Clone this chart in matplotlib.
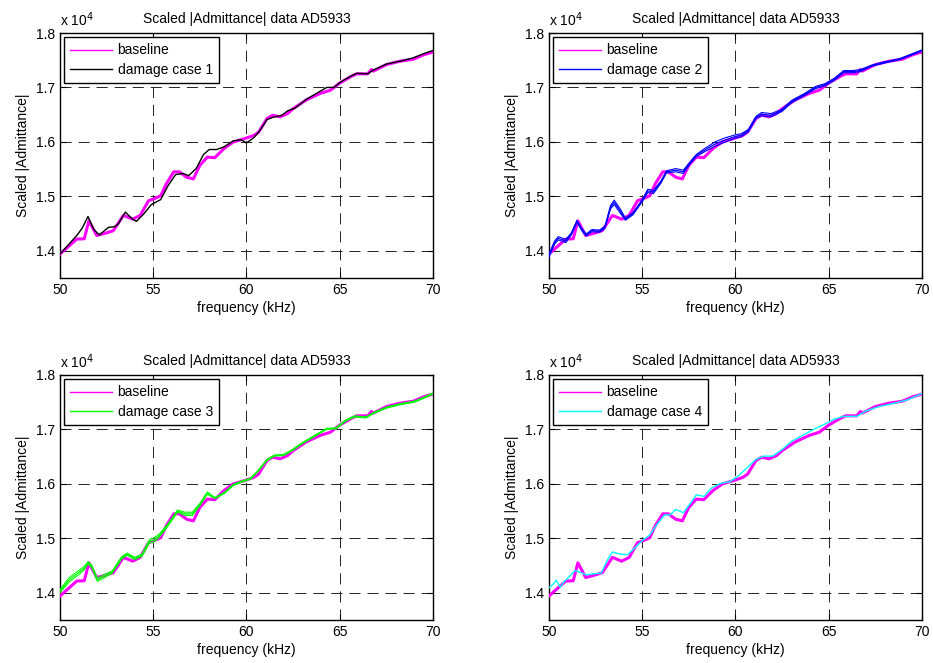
import matplotlib
matplotlib.use("Agg")
import matplotlib.pyplot as plt
import numpy as np

plt.rcParams.update({
    "font.size": 10,
    "axes.titlesize": 10,
    "font.family": "Liberation Sans",
    "lines.scale_dashes": False,
})

# admittance values are in units of 1e4
base_f = [50, 50.9, 51.3, 51.55, 51.97, 52.3, 52.6, 52.86, 53.4, 53.9, 54.3, 54.75, 55.0,
          55.4, 55.7, 56.1, 56.4, 56.8, 57.15, 57.5, 57.9, 58.3, 58.8, 59.3, 59.9, 60.4,
          60.65, 61.1, 61.4, 61.8, 62.2, 62.5, 63.2, 63.95, 64.5, 65.0, 65.6, 65.9, 66.5,
          66.7, 66.8, 67.5, 68.2, 68.96, 69.5, 70]
base_y = [1.394, 1.4215, 1.422, 1.455, 1.428, 1.431, 1.434, 1.437, 1.465, 1.458, 1.465, 1.492, 1.495,
          1.501, 1.523, 1.545, 1.545, 1.535, 1.532, 1.557, 1.572, 1.571, 1.588, 1.600, 1.606, 1.612,
          1.618, 1.643, 1.649, 1.646, 1.652, 1.661, 1.677, 1.689, 1.695, 1.708, 1.720, 1.725, 1.725,
          1.733, 1.730, 1.742, 1.748, 1.752, 1.760, 1.765]

case1_f = [50, 50.9, 51.2, 51.5, 51.8, 52.1, 52.6, 52.9, 53.1, 53.5, 53.9, 54.1, 54.5, 54.9,
           55.4, 55.8, 56.2, 56.6, 56.9, 57.3, 57.7, 58.0, 58.4, 58.8, 59.3, 59.7, 60.0, 60.4,
           60.7, 61.1, 61.4, 61.9, 62.2, 62.6, 63.2, 63.9, 64.3, 64.7, 65.0, 65.5, 65.9, 66.5,
           66.8, 67.5, 68.2, 68.9, 69.5, 70]
case1_y = [1.394, 1.428, 1.442, 1.463, 1.440, 1.429, 1.443, 1.444, 1.448, 1.471, 1.458, 1.454, 1.468, 1.485,
           1.494, 1.520, 1.540, 1.542, 1.538, 1.551, 1.577, 1.586, 1.586, 1.591, 1.602, 1.604, 1.598, 1.608,
           1.620, 1.641, 1.645, 1.649, 1.657, 1.662, 1.678, 1.692, 1.700, 1.700, 1.709, 1.719, 1.726, 1.725,
           1.732, 1.743, 1.748, 1.754, 1.762, 1.768]

case2_f = [50, 50.3, 50.5, 50.9, 51.2, 51.5, 51.8, 52.0, 52.3, 52.7, 53.0, 53.3, 53.5, 53.8,
           54.1, 54.5, 55.0, 55.3, 55.6, 56.0, 56.3, 56.8, 57.2, 57.6, 57.9, 58.4, 58.9, 59.4,
           60.0, 60.3, 60.7, 61.1, 61.4, 61.9, 62.5, 63.0, 63.7, 64.3, 64.8, 65.3, 65.8, 66.3,
           66.7, 67.3, 68.0, 68.8, 69.4, 70.0]
case2_y = [1.391, 1.415, 1.423, 1.418, 1.431, 1.454, 1.437, 1.429, 1.437, 1.436, 1.443, 1.480, 1.489, 1.474,
           1.458, 1.468, 1.492, 1.510, 1.508, 1.526, 1.545, 1.548, 1.545, 1.563, 1.575, 1.586, 1.596, 1.603,
           1.610, 1.612, 1.621, 1.645, 1.651, 1.649, 1.658, 1.674, 1.687, 1.700, 1.705, 1.715, 1.729, 1.729,
           1.731, 1.740, 1.746, 1.752, 1.760, 1.768]
case2_spread = [0.003, 0.003, 0.003, 0.003, 0.002, 0.002, 0.002, 0.002, 0.002, 0.002, 0.002, 0.003, 0.004, 0.004,
                0.002, 0.002, 0.002, 0.003, 0.003, 0.002, 0.002, 0.003, 0.003, 0.002, 0.002, 0.003, 0.004, 0.004,
                0.003, 0.003, 0.002, 0.002, 0.003, 0.003, 0.002, 0.002, 0.002, 0.002, 0.002, 0.002, 0.002, 0.002,
                0.002, 0.001, 0.001, 0.001, 0.001, 0.001]

case3_f = [50, 50.5, 51.0, 51.3, 51.5, 51.7, 52.0, 52.4, 52.8, 53.3, 53.6, 54.0, 54.4, 54.8, 55.0,
           55.3, 55.8, 56.3, 56.7, 57.1, 57.5, 57.9, 58.3, 58.8, 59.3, 59.8, 60.2, 60.6, 61.1, 61.5,
           62.0, 62.5, 63.0, 63.7, 64.3, 64.8, 65.3, 65.8, 66.4, 66.8, 67.5, 68.2, 69.0, 69.5, 70]
case3_y = [1.403, 1.424, 1.437, 1.445, 1.455, 1.449, 1.424, 1.431, 1.438, 1.464, 1.471, 1.463, 1.469, 1.495, 1.496,
           1.504, 1.525, 1.550, 1.545, 1.545, 1.562, 1.583, 1.574, 1.583, 1.598, 1.605, 1.609, 1.623, 1.644, 1.652,
           1.653, 1.663, 1.675, 1.689, 1.701, 1.702, 1.716, 1.724, 1.722, 1.730, 1.740, 1.746, 1.751, 1.758, 1.766]
case3_spread = [0.003, 0.004, 0.004, 0.003, 0.002, 0.002, 0.003, 0.003, 0.002, 0.002, 0.002, 0.002, 0.002, 0.003, 0.004,
                0.003, 0.002, 0.002, 0.003, 0.003, 0.002, 0.002, 0.001, 0.001, 0.001, 0.001, 0.001, 0.001, 0.001, 0.001,
                0.001, 0.001, 0.001, 0.001, 0.001, 0.001, 0.001, 0.001, 0.001, 0.001, 0.001, 0.001, 0.001, 0.001, 0.001]

case4_f = [50, 50.2, 50.4, 50.6, 50.8, 51.1, 51.4, 51.7, 52.0, 52.4, 52.8, 53.1, 53.4, 53.8, 54.2, 54.6,
           55.0, 55.4, 55.8, 56.2, 56.5, 56.8, 57.2, 57.6, 57.9, 58.3, 58.7, 59.2, 59.7, 60.2, 60.6, 61.1,
           61.5, 62.0, 62.5, 63.0, 63.7, 64.3, 64.8, 65.3, 65.8, 66.5, 67.0, 67.7, 68.5, 69.2, 70]
case4_y = [1.409, 1.415, 1.423, 1.410, 1.420, 1.430, 1.441, 1.437, 1.433, 1.435, 1.436, 1.458, 1.475, 1.471, 1.470, 1.482,
           1.496, 1.506, 1.526, 1.543, 1.543, 1.553, 1.547, 1.565, 1.580, 1.577, 1.592, 1.601, 1.604, 1.616, 1.629, 1.645,
           1.651, 1.651, 1.663, 1.678, 1.691, 1.702, 1.710, 1.719, 1.724, 1.724, 1.734, 1.742, 1.748, 1.754, 1.766]

cases = [
    ("damage case 1", "black", case1_f, case1_y, None),
    ("damage case 2", "#0000ff", case2_f, case2_y, case2_spread),
    ("damage case 3", "#00ff00", case3_f, case3_y, case3_spread),
    ("damage case 4", "#00ffff", case4_f, case4_y, None),
]

# axes positions in figure fractions (left, bottom, width, height)
positions = [
    (0.0643, 0.5807, 0.3998, 0.3695),
    (0.5884, 0.5807, 0.3998, 0.3695),
    (0.0643, 0.0649, 0.3998, 0.3695),
    (0.5884, 0.0649, 0.3998, 0.3695),
]

fig = plt.figure(figsize=(9.33, 6.63), dpi=100)

for pos, (label, color, f, y, spread) in zip(positions, cases):
    ax = fig.add_axes(pos)
    ax.plot(base_f, base_y, color="#ff00ff", lw=2.2, label="baseline", zorder=3)
    if spread is None:
        ax.plot(f, y, color=color, lw=1.0, label=label, zorder=4)
    else:
        s = np.array(spread)
        ax.plot(f, y, color=color, lw=0.9, label=label, zorder=4)
        ax.plot(f, np.array(y) + s, color=color, lw=0.8, zorder=4)
        ax.plot(f, np.array(y) - s, color=color, lw=0.8, zorder=4)

    ax.set_xlim(50, 70)
    ax.set_ylim(1.35, 1.8)
    ax.set_xticks([50, 55, 60, 65, 70])
    ax.set_yticks([1.4, 1.5, 1.6, 1.7, 1.8])
    ax.set_yticklabels(["1.4", "1.5", "1.6", "1.7", "1.8"])
    ax.grid(True, color="#222222", linestyle=(0, (8, 5)), lw=0.7)
    ax.tick_params(direction="in", top=True, right=True, length=4, width=0.8)
    for sp in ax.spines.values():
        sp.set_linewidth(1.0)

    ax.set_title("Scaled |Admittance| data AD5933", pad=7)
    ax.set_xlabel("frequency (kHz)", labelpad=3)
    ax.set_ylabel("Scaled |Admittance|", labelpad=4)
    ax.text(0.0, 1.015, r"x 10$^{4}$", transform=ax.transAxes, ha="left", va="bottom")

    leg = ax.legend(loc="upper left", fancybox=False, framealpha=1, edgecolor="black",
                    handlelength=3.0, handletextpad=0.4, borderpad=0.45,
                    labelspacing=0.4, borderaxespad=0.3)
    leg.get_frame().set_linewidth(1.0)
    leg.set_zorder(10)
    for h in leg.legend_handles:
        h.set_linewidth(1.0)

fig.savefig("out.png", dpi=100)
